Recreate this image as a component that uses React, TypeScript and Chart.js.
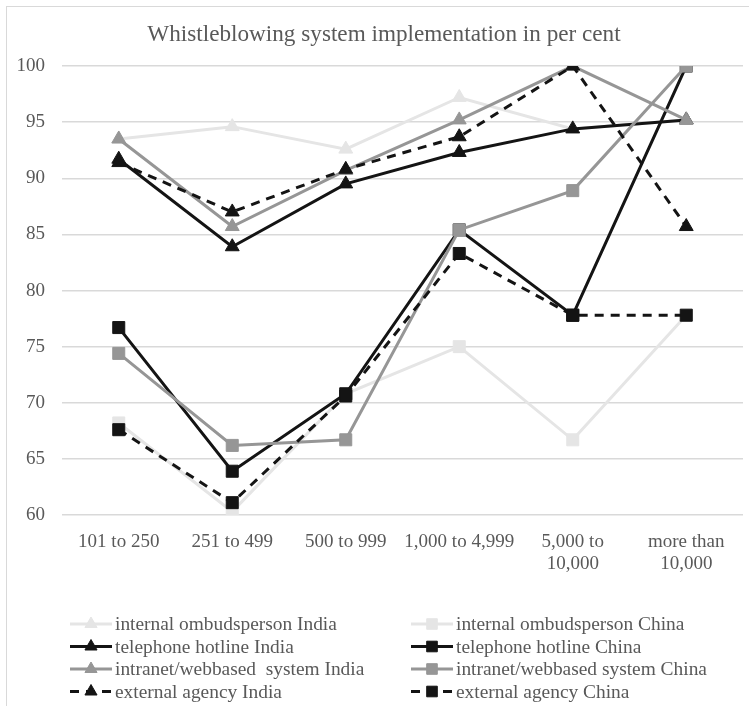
import React, { useEffect, useRef } from 'react';
import { Chart, registerables } from 'chart.js';
import { drawPoint } from 'chart.js/helpers';

Chart.register(...registerables);

const titleText = 'Whistleblowing system implementation in per cent';
const categories: (string | string[])[] = [
  '101 to 250',
  '251 to 499',
  '500 to 999',
  '1,000 to 4,999',
  ['5,000 to', '10,000'],
  ['more than', '10,000'],
];

const internalOmbudsIndia = [93.5, 94.6, 92.6, 97.2, 94.4, 95.2];
const internalOmbudsChina = [68.2, 60.3, 70.8, 75.0, 66.7, 77.8];
const telephoneIndia = [91.7, 83.9, 89.5, 92.3, 94.4, 95.2];
const telephoneChina = [76.7, 63.9, 70.8, 85.4, 77.8, 100];
const intranetIndia = [93.5, 85.7, 90.7, 95.2, 100, 95.2];
const intranetChina = [74.4, 66.2, 66.7, 85.4, 88.9, 100];
const externalIndia = [91.4, 87.0, 90.8, 93.7, 100, 85.7];
const externalChina = [67.6, 61.1, 70.6, 83.3, 77.8, 77.8];

const seriesLabels = [
  'internal ombudsperson India',
  'internal ombudsperson China',
  'telephone hotline India',
  'telephone hotline China',
  'intranet/webbased  system India',
  'intranet/webbased system China',
  'external agency India',
  'external agency China',
];

const LIGHT = '#e5e5e5';
const BLACK = '#141414';
const MID = '#969696';
const TEXT = '#595959';
const FONT = "'Liberation Serif', 'Times New Roman', serif";

export default function App() {
  const ref = useRef<HTMLCanvasElement | null>(null);

  useEffect(() => {
    if (!ref.current) return;
    const values = [
      internalOmbudsIndia,
      internalOmbudsChina,
      telephoneIndia,
      telephoneChina,
      intranetIndia,
      intranetChina,
      externalIndia,
      externalChina,
    ];
    const colors = [LIGHT, LIGHT, BLACK, BLACK, MID, MID, BLACK, BLACK];
    const n = values.length;
    const datasets = values.map((data, i) => {
      const isIndia = i % 2 === 0;
      const dashed = i >= 6;
      return {
        label: seriesLabels[i],
        data,
        yAxisID: 'y',
        borderColor: colors[i],
        backgroundColor: colors[i],
        pointBackgroundColor: colors[i],
        pointBorderColor: colors[i],
        borderWidth: 3,
        borderDash: dashed ? [9, 7] : [],
        pointStyle: isIndia ? 'triangle' : 'rect',
        pointRadius: isIndia ? 8 : 8.5,
        pointBorderWidth: 1,
        tension: 0,
        fill: false,
        order: n - i,
      } as any;
    });

    const bgPlugin = {
      id: 'bgBorder',
      beforeDraw(chart: any) {
        const ctx = chart.ctx;
        ctx.save();
        ctx.fillStyle = '#ffffff';
        ctx.fillRect(0, 0, chart.width, chart.height);
        ctx.strokeStyle = '#d9d9d9';
        ctx.lineWidth = 1;
        ctx.strokeRect(6.5, 6.5, 755, 720);
        ctx.restore();
      },
    };

    const legendPlugin = {
      id: 'gridLegend',
      afterDraw(chart: any) {
        const ctx = chart.ctx;
        chart.data.datasets.forEach((ds: any, i: number) => {
          const col = i % 2;
          const row = Math.floor(i / 2);
          const x0 = col === 0 ? 70 : 411;
          const y = 624 + row * 22.5;
          ctx.save();
          ctx.strokeStyle = ds.borderColor;
          ctx.lineWidth = 3;
          ctx.setLineDash(ds.borderDash || []);
          ctx.beginPath();
          ctx.moveTo(x0, y);
          ctx.lineTo(x0 + 42, y);
          ctx.stroke();
          ctx.setLineDash([]);
          ctx.fillStyle = ds.borderColor;
          ctx.strokeStyle = ds.borderColor;
          ctx.lineWidth = 1;
          drawPoint(ctx, { pointStyle: ds.pointStyle, radius: ds.pointStyle === 'triangle' ? 7 : 7.5, borderWidth: 1, rotation: 0 } as any, x0 + 21, y);
          ctx.fillStyle = TEXT;
          ctx.font = `19.4px ${FONT}`;
          ctx.textBaseline = 'middle';
          ctx.textAlign = 'left';
          ctx.fillText(ds.label, x0 + 45, y + 1);
          ctx.restore();
        });
      },
    };

    const chart = new Chart(ref.current, {
      type: 'line',
      data: { labels: categories as any, datasets },
      options: {
        animation: false,
        responsive: false,
        maintainAspectRatio: false,
        devicePixelRatio: 1,
        layout: { padding: { left: 0, right: 0, top: 0, bottom: 111 } },
        plugins: {
          legend: { display: false },
          tooltip: { enabled: false },
          title: {
            display: true,
            text: titleText,
            color: TEXT,
            font: { family: FONT, size: 23.2, weight: 'normal' as any },
            padding: { top: 21.1, bottom: 17.1 },
          },
        },
        scales: {
          x: {
            offset: true,
            grid: { display: false },
            border: { display: false },
            ticks: {
              color: TEXT,
              font: { family: FONT, size: 19, lineHeight: 1.16 },
              maxRotation: 0,
              minRotation: 0,
              autoSkip: false,
              padding: 8,
            },
            afterFit(scale: any) {
              scale.height = 80;
            },
          },
          y: {
            min: 60,
            max: 100,
            grid: { color: '#d9d9d9', lineWidth: 1.5, drawTicks: false },
            border: { display: false },
            ticks: {
              stepSize: 5,
              color: TEXT,
              font: { family: FONT, size: 19 },
              padding: 17,
            },
            afterFit(scale: any) {
              scale.width = 62;
            },
          },
          yRight: {
            position: 'right',
            min: 60,
            max: 100,
            grid: { display: false, drawTicks: false },
            border: { display: false },
            ticks: { display: false },
            afterFit(scale: any) {
              scale.width = 25;
            },
          },
        },
      },
      plugins: [bgPlugin, legendPlugin],
    });
    return () => chart.destroy();
  }, []);

  return (
    <div style={{ position: 'fixed', left: 0, top: 0, width: 749, height: 706, overflow: 'hidden', background: '#fff' }}>
      <canvas ref={ref} width={768} height={706} style={{ display: 'block', width: 768, height: 706 }} />
    </div>
  );
}
